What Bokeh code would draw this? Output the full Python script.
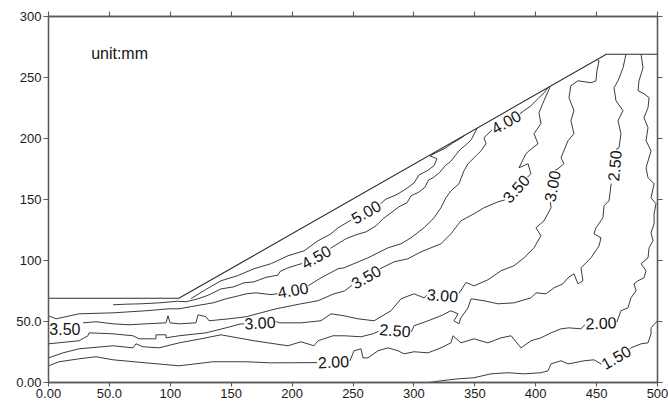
import math
from bokeh.plotting import figure
from bokeh.models import Range1d, FixedTicker, LinearAxis
from bokeh.embed import file_html
from bokeh.resources import INLINE
from bokeh.core.properties import value

# ---------------- data ----------------
ground_x = [0, 107, 458, 500]
ground_y = [69, 69, 269, 269]

l500a_x = [117, 128, 141.6, 155, 168.7, 183, 196.6, 209.8, 221.3, 232, 237.7, 248.5]
l500a_y = [68.8, 75.5, 83.4, 87.5, 93.2, 97.5, 103.9, 107.9, 116.2, 121.9, 126.8, 133.2]
l500b_x = [272.5, 277.1, 285.3, 293.5, 300.1, 304.2, 310.7, 316.5, 318.9, 313.2, 319.7, 326.3, 332.1, 336.2, 341.1]
l500b_y = [146.5, 150.4, 153.7, 158.6, 163.5, 170.1, 173.4, 177.6, 183.4, 185.8, 189.1, 192.4, 196.5, 198.8, 202.0]

l450a_x = [53, 64, 76, 91, 106, 113, 122, 131, 141.6, 152, 160.5, 168.7, 178.6, 188.4, 190.1, 196.6, 208]
l450a_y = [63.7, 64.2, 64.5, 65.3, 66.6, 66.2, 68.4, 71.5, 76.7, 78.4, 81.7, 82.5, 86.2, 88.0, 91.0, 94.0, 97.5]
l450b_x = [231.5, 244.2, 252.5, 260.7, 268.9, 274.6, 281.2, 287.7, 294.3, 297.6, 304, 309, 312, 316, 321, 326, 330, 334, 338, 343, 347, 352]
l450b_y = [110, 117.8, 121.1, 123.5, 128.4, 134.2, 139.1, 144, 147.3, 153, 156, 160, 166, 168, 172, 178, 181, 186, 191, 195, 199, 208.5]

l400a_x = [0, 6.2, 25, 53, 80, 98.9, 107.2, 121.1, 135.1, 145.7, 156.3, 162.2, 170.4, 182.7, 188]
l400a_y = [54.7, 52.2, 56.3, 57.1, 58.8, 60.4, 60.4, 62.9, 65.3, 68.6, 71.1, 72.7, 73.5, 72.0, 72.8]
l400b_x = [213.3, 223.7, 237.7, 242.6, 262.3, 278.7, 289.4, 297.6, 308.3, 316.5, 322.2, 326.3, 330.4, 337, 341.1, 344.4, 351, 355.1, 359.2, 357.5, 364.3]
l400b_y = [79.3, 85.8, 93.2, 94.0, 102.2, 110.4, 113.7, 118.6, 126.8, 135.0, 143.2, 151.4, 157.1, 162.9, 173.5, 179.3, 185.8, 189.9, 195.7, 200.6, 207.2]
l400c_x = [386.9, 396.1, 401.9, 406.8, 410.1]
l400c_y = [220.2, 226.9, 232.6, 237.5, 241.6]

l350a_x = [28.3, 39, 53, 66.1, 80, 96.5, 98.1, 99.8, 107.2, 121.1, 122.7, 129.3, 131.8, 148.2, 162.2, 186.8, 207.3, 221.3, 234.4, 243, 249]
l350a_y = [48.9, 49.8, 48.1, 47.3, 48.1, 48.9, 54.7, 48.9, 48.1, 48.9, 55.5, 53.9, 50.6, 52.2, 53.9, 60.4, 64.5, 67.0, 72.7, 75.0, 79.6]
l350b_x = [272, 283.7, 295.1, 305.8, 322.2, 330.4, 338.6, 349.3, 357.5, 369, 374.6]
l350b_y = [93.1, 98.9, 101.4, 107.1, 113.7, 121.9, 132.5, 138.3, 143.2, 148.1, 149.6]
l350c_x = [393, 396.1, 393.7, 386.3, 392, 394.5, 401.9, 398.6, 404.3, 402.7, 406.8, 412]
l350c_y = [168, 171.1, 179.3, 176, 187.5, 189.9, 195.7, 203.9, 212.2, 221.2, 231, 242.7]

l300a_x = [0, 16.8, 25, 32.4, 33.3, 53, 69.4, 74.3, 88.2, 88.2, 96.5, 96.5, 107.2, 129.3, 145.7, 158, 160.6]
l300a_y = [31.7, 33.4, 34.2, 38.3, 40.7, 39.9, 38.3, 35.8, 35.8, 39.1, 39.1, 36.6, 38.3, 40.7, 44.8, 48.1, 47.9]
l300b_x = [186.6, 189.3, 207.3, 223.7, 232, 242.6, 254.1, 267.3, 281.2, 289.4, 300.1, 308.3, 310.5]
l300b_y = [50.1, 48.9, 48.9, 50.6, 56.3, 54.7, 52.2, 50.6, 58.8, 68.6, 72.7, 69.4, 71.5]
l300c_x = [337, 342.8, 349.3, 360.8, 371.5, 382.2, 390.4, 398.6, 404.3, 400.2, 406.8, 412.6, 412]
l300c_y = [73, 82, 79.2, 84.2, 91.6, 95.7, 102.2, 110.4, 120.3, 126.8, 132.5, 143.2, 148]
l300d_x = [416, 418.3, 423.2, 420.8, 426.5, 431.4, 428.9, 431.4, 427.3, 428.9, 434.7, 445.4, 449.5, 450.3, 452, 450.5]
l300d_y = [174, 175.2, 179.3, 184.2, 198.2, 203.9, 214.6, 222.8, 233.5, 243.2, 247.3, 245.7, 247.3, 255.5, 263.7, 264.7]

l250a_x = [0, 11.9, 25, 53, 69.4, 71.8, 77.6, 90.7, 107.2, 125.2, 141.6, 168.7, 196.6, 207.3, 218, 221.3, 233.6, 242.6, 256.6, 266.4, 271]
l250a_y = [20.2, 24.3, 27.6, 30.1, 28.4, 31.7, 29.3, 28.4, 32.5, 35.8, 39.1, 34.2, 30.1, 33.4, 30.1, 34.2, 38.3, 38.3, 37.5, 39.9, 42.0]
l250b_x = [298, 300.1, 311.6, 322.2, 330.4, 336.2, 332.9, 337, 338.6, 344.4, 346.9, 357.5, 369, 382.2, 396.1, 400.2, 408.4, 415, 422.4, 426.5, 431.4, 434.7, 438.8, 437.2, 445.4, 452, 453.6, 447.8, 449.5, 455.2, 456.1, 460.2, 462]
l250b_y = [41.5, 46.5, 50.6, 54.7, 58.8, 56.3, 50.6, 48.1, 53.0, 61.2, 68.6, 67.0, 64.5, 65.3, 69.4, 73.5, 72.7, 77.6, 80.9, 85.8, 89.1, 80.9, 83.4, 94.0, 102.2, 112.0, 118.6, 121.9, 126.8, 135.0, 144.9, 148.9, 163.0]
l250c_x = [466, 468.4, 470, 467.6, 471.7, 465.9, 464.3, 467.6, 471.7, 474.1]
l250c_y = [191, 192.4, 203.9, 214.6, 222.8, 231.0, 241.6, 247.3, 257.9, 269]

l200a_x = [0, 8.6, 25, 39, 53, 80, 107.2, 135.1, 162.2, 182.7, 220.5]
l200a_y = [13.7, 17.0, 19.4, 21.1, 18.6, 16.1, 13.7, 17.0, 17.0, 16.1, 16.3]
l200b_x = [247.5, 250.8, 256.6, 258.2, 262.3, 270.5, 278.7, 287, 291.8, 300.1, 311.6, 322.2, 330.4, 332.1, 338.6, 349.3, 360.8, 371.5, 379.8, 387.9, 396.1, 404.3, 412.6, 420.8, 427.3, 437.2, 440.5]
l200b_y = [17.8, 26.0, 27.6, 20.2, 20.2, 26.0, 28.4, 26.0, 23.5, 25.2, 24.3, 28.4, 32.5, 38.3, 32.5, 35.8, 32.5, 36.6, 38.3, 28.4, 34.2, 36.6, 40.7, 44.0, 44.8, 44.0, 47.5]
l200c_x = [466.6, 467.6, 470, 475.8, 478.2, 482.4, 480.7, 484, 488.9, 490.6, 486.5, 492.2, 493.1, 496.3, 494.7, 497.2, 497.2, 498.8, 494.7, 497.2, 492.2, 490.6, 494.7, 490.6, 492.2, 488.9, 492.2, 493.1, 488.9, 484, 484.8, 488.1, 486.5]
l200c_y = [49.5, 52.2, 58.8, 61.2, 69.4, 75.1, 80.9, 83.4, 85.8, 91.6, 97.3, 102.2, 110.4, 116.2, 122.7, 130.1, 138.3, 146.5, 151.4, 162.9, 167.8, 176.0, 189.9, 198.2, 208.9, 217.1, 225.2, 233.5, 236.7, 239.2, 247.3, 257.9, 269]

l150a_x = [312.4, 322.2, 336.2, 349.3, 363.3, 377.3, 390.4, 404.3, 410.1, 412.6, 420.8, 426.5, 431.4, 439.6, 447.8, 454]
l150a_y = [0, 1.4, 3.0, 3.9, 7.1, 8.0, 7.1, 8.0, 9.6, 15.3, 17.8, 15.3, 16.1, 17.8, 18.6, 15.0]
l150b_x = [477.2, 478.2, 486.5, 492.2, 494.7, 494.7, 500]
l150b_y = [27.2, 28.4, 31.7, 32.5, 39.9, 44.8, 50.6]

label_text = ["5.00", "4.50", "4.00", "4.00", "3.50", "3.50", "3.50", "3.00", "3.00", "3.00", "2.50", "2.50", "2.00", "2.00", "1.50"]
label_x = [260.7, 219.6, 200.7, 375.6, 13.5, 260.7, 383.8, 173.6, 323.5, 413.5, 284.5, 464.7, 234.0, 453.6, 465.9]
label_y = [139.9, 103.0, 75.9, 213.7, 43.6, 86.6, 158.8, 49.0, 71.5, 161.0, 42.8, 177.6, 17.0, 48.9, 20.7]
label_angle_deg = [30, 30, 10, 30, 0, 30, 48, 3, -5, 80, -5, 85, 3, 2, 30]

x_ticks = [0, 50, 100, 150, 200, 250, 300, 350, 400, 450, 500]
x_tick_labels = ["0.00", "50.0", "100", "150", "200", "250", "300", "350", "400", "450", "500"]
y_ticks = [0, 50, 100, 150, 200, 250, 300]
y_tick_labels = ["0.00", "50.0", "100", "150", "200", "250", "300"]

unit_text = "unit:mm"

# ---------------- figure ----------------
FONT = "Liberation Sans"
AXIS_COLOR = "#5a5a5a"

p = figure(width=668, height=403, x_range=Range1d(0, 500), y_range=Range1d(0, 300),
           output_backend="svg", toolbar_location=None, title=None,
           min_border_left=48, min_border_right=11, min_border_top=16, min_border_bottom=21)
p.background_fill_color = "white"
p.border_fill_color = "white"
p.outline_line_color = AXIS_COLOR
p.outline_line_width = 1.3
p.xgrid.visible = False
p.ygrid.visible = False


def style_axis(ax, ticks, labels, tick_out, standoff, show_labels=True):
    ax.ticker = FixedTicker(ticks=ticks, minor_ticks=[])
    ax.axis_line_color = AXIS_COLOR
    ax.axis_line_width = 1.3
    ax.major_tick_line_color = AXIS_COLOR
    ax.major_tick_line_width = 1.1
    ax.major_tick_in = 0
    ax.major_tick_out = tick_out
    ax.minor_tick_line_color = None
    ax.major_label_standoff = standoff
    if show_labels:
        ax.major_label_overrides = {t: l for t, l in zip(ticks, labels)}
        ax.major_label_text_font = FONT
        ax.major_label_text_font_size = "13px"
        ax.major_label_text_color = "#1a1a1a"
    else:
        ax.major_label_text_font_size = "0px"
        ax.major_label_text_color = None


style_axis(p.xaxis[0], x_ticks, x_tick_labels, 4, 2)
style_axis(p.yaxis[0], y_ticks, y_tick_labels, 5, 2)

# unlabeled ticks on the top and right edges
top_ax = LinearAxis()
right_ax = LinearAxis()
style_axis(top_ax, x_ticks, x_tick_labels, 5, 0, show_labels=False)
style_axis(right_ax, y_ticks, y_tick_labels, 5, 0, show_labels=False)
p.add_layout(top_ax, "above")
p.add_layout(right_ax, "right")

# ground surface
p.line(ground_x, ground_y, line_color="#2e2e2e", line_width=1.1)

# contour lines
segments = [
    (l500a_x, l500a_y), (l500b_x, l500b_y),
    (l450a_x, l450a_y), (l450b_x, l450b_y),
    (l400a_x, l400a_y), (l400b_x, l400b_y), (l400c_x, l400c_y),
    (l350a_x, l350a_y), (l350b_x, l350b_y), (l350c_x, l350c_y),
    (l300a_x, l300a_y), (l300b_x, l300b_y), (l300c_x, l300c_y), (l300d_x, l300d_y),
    (l250a_x, l250a_y), (l250b_x, l250b_y), (l250c_x, l250c_y),
    (l200a_x, l200a_y), (l200b_x, l200b_y), (l200c_x, l200c_y),
    (l150a_x, l150a_y), (l150b_x, l150b_y),
]
p.multi_line([s[0] for s in segments], [s[1] for s in segments],
             line_color="#3c3c3c", line_width=1.0)

# contour labels
p.text(x=label_x, y=label_y, text=label_text,
       angle=[math.radians(a) for a in label_angle_deg],
       text_align="center", text_baseline="middle",
       text_font=value(FONT), text_font_size="16px", text_color="#141414")

# unit annotation
p.text(x=[35], y=[270], text=[unit_text], text_align="left", text_baseline="middle",
       text_font=value(FONT), text_font_size="16px", text_color="#141414")

open("out.html", "w").write(file_html(p, INLINE))
